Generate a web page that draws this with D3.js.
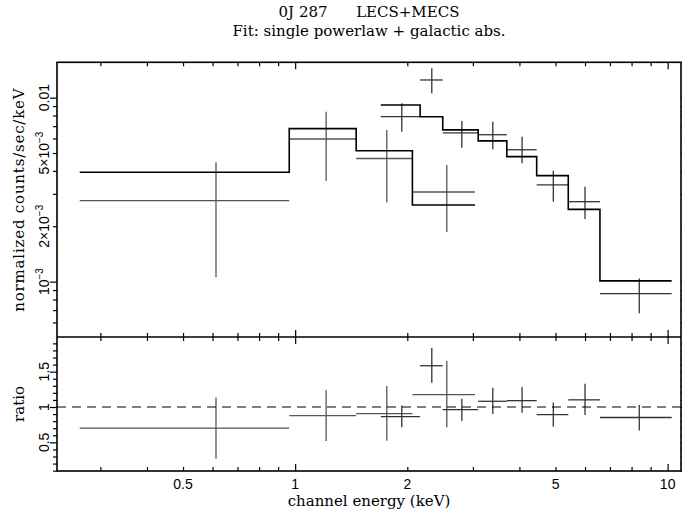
<!DOCTYPE html>
<html>
<head>
<meta charset="utf-8">
<script src="https://cdn.jsdelivr.net/npm/d3@7"></script>
<style>
body{margin:0;background:#fff;}
svg{display:block;}
.lab{font-family:"DejaVu Serif",serif;font-size:15px;fill:#000;}
.tk{font-family:"Liberation Sans",Arial,sans-serif;font-size:14px;fill:#000;}
</style>
</head>
<body>
<div id="chart"></div>
<script>
/*DATA
------------------------------------------------------
*/
// LECS : bins (keV), centre, data, error limits, model (counts/s/keV)
const lecsLo = [0.264, 0.964, 1.458, 2.064];
const lecsHi = [0.964, 1.458, 2.064, 3.04];
const lecsE = [0.613, 1.211, 1.762, 2.553];
const lecsData = [2.755e-3, 5.96e-3, 4.67e-3, 3.07e-3];
const lecsErrHi = [4.46e-3, 8.39e-3, 6.68e-3, 4.31e-3];
const lecsErrLo = [1.06e-3, 3.53e-3, 2.70e-3, 1.86e-3];
const lecsModel = [3.93e-3, 6.79e-3, 5.15e-3, 2.61e-3];

// MECS
const mecsLo = [1.698, 2.165, 2.49, 3.10, 3.70, 4.45, 5.41, 6.58];
const mecsHi = [2.165, 2.49, 3.10, 3.70, 4.45, 5.41, 6.58, 10.25];
const mecsE = [1.933, 2.327, 2.802, 3.393, 4.066, 4.932, 6.0, 8.39];
const mecsData = [7.88e-3, 1.248e-2, 6.43e-3, 6.29e-3, 5.21e-3, 3.36e-3, 2.72e-3, 8.6e-4];
const mecsErrHi = [9.32e-3, 1.445e-2, 7.47e-3, 7.40e-3, 6.14e-3, 4.01e-3, 3.28e-3, 1.04e-3];
const mecsErrLo = [6.53e-3, 1.057e-2, 5.35e-3, 5.24e-3, 4.40e-3, 2.72e-3, 2.19e-3, 6.73e-4];
const mecsModel = [9.13e-3, 7.88e-3, 6.68e-3, 5.82e-3, 4.78e-3, 3.77e-3, 2.47e-3, 1.01e-3];

// ticks
const xMajor = [1, 10];
const xMinor = [0.3, 0.4, 0.5, 0.6, 0.7, 0.8, 0.9, 2, 3, 4, 5, 6, 7, 8, 9];
const xLabels = [0.5, 1, 2, 5, 10];
const yTopMajor = [1e-3, 1e-2];
const yTopMinor = [6e-4, 7e-4, 8e-4, 9e-4, 2e-3, 3e-3, 4e-3, 5e-3, 6e-3, 7e-3, 8e-3, 9e-3];
const yTopLabels = [[1e-2, "0.01", ""], [5e-3, "5\u00d710", "\u22123"], [2e-3, "2\u00d710", "\u22123"], [1e-3, "10", "\u22123"]];
const yBotMajor = [0.5, 1, 1.5];
const yBotMinor = [0.1, 0.2, 0.3, 0.4, 0.6, 0.7, 0.8, 0.9, 1.1, 1.2, 1.3, 1.4, 1.6, 1.7, 1.8, 1.9];
const yBotLabels = [0.5, 1, 1.5];

/*DIMENSION
------------------------------------------------------
*/
const width = 682, height = 517;
const L = 57, R = 681, T = 62.3, M = 337, B = 471;

const svg = d3.select("#chart").append("svg")
	.attr("width", width)
	.attr("height", height);

const x = d3.scaleLog().domain([0.2294, 10.86]).range([L, R]);
const yTop = d3.scaleLog().domain([5e-4, 0.01557]).range([M, T]);
const yBot = d3.scaleLinear().domain([0.095, 1.99]).range([B, M]);

/*TICKS (inward, on every side)
------------------------------------------------------
*/
function ticks(axis, pos, values, size){
	svg.append("g")
		.attr("transform", pos)
		.call(axis.tickValues(values).tickSize(-size).tickFormat(""))
		.call(g => g.select(".domain").remove())
		.selectAll("line").attr("stroke", "#000").attr("stroke-width", 1.2);
}
[[d3.axisTop, T], [d3.axisBottom, M], [d3.axisTop, M], [d3.axisBottom, B]].forEach(function(a){
	ticks(a[0](x), "translate(0," + a[1] + ")", xMajor, 7);
	ticks(a[0](x), "translate(0," + a[1] + ")", xMinor, 4);
});
[[d3.axisRight, L], [d3.axisLeft, R]].forEach(function(a){
	ticks(a[0](yTop), "translate(" + a[1] + ",0)", yTopMajor, 7);
	ticks(a[0](yTop), "translate(" + a[1] + ",0)", yTopMinor, 4);
	ticks(a[0](yBot), "translate(" + a[1] + ",0)", yBotMajor, 7);
	ticks(a[0](yBot), "translate(" + a[1] + ",0)", yBotMinor, 4);
});

/*FRAME
------------------------------------------------------
*/
svg.append("rect").attr("x", L).attr("y", T).attr("width", R - L).attr("height", B - T)
	.attr("fill", "none").attr("stroke", "#000").attr("stroke-width", 1.6);
svg.append("line").attr("x1", L).attr("x2", R).attr("y1", M).attr("y2", M)
	.attr("stroke", "#000").attr("stroke-width", 1.6);

/*DATA + MODEL, RATIO
------------------------------------------------------
*/
function rows(lo, hi, e, d, el, eh, m){
	return lo.map((v, i) => ({lo: v, hi: hi[i], e: e[i], d: d[i], el: el[i], eh: eh[i], m: m[i]}));
}
const sets = [
	{rows: rows(lecsLo, lecsHi, lecsE, lecsData, lecsErrLo, lecsErrHi, lecsModel), col: "#555"},
	{rows: rows(mecsLo, mecsHi, mecsE, mecsData, mecsErrLo, mecsErrHi, mecsModel), col: "#333"}
];

const line = d3.line();
sets.forEach(function(s){
	const gTop = svg.append("g").attr("stroke", s.col).attr("stroke-width", 1.3);
	gTop.selectAll(".h").data(s.rows).enter().append("line")
		.attr("x1", d => x(d.lo)).attr("x2", d => x(d.hi))
		.attr("y1", d => yTop(d.d)).attr("y2", d => yTop(d.d));
	gTop.selectAll(".v").data(s.rows).enter().append("line")
		.attr("x1", d => x(d.e)).attr("x2", d => x(d.e))
		.attr("y1", d => yTop(d.el)).attr("y2", d => yTop(d.eh));

	const pts = [];
	s.rows.forEach(d => { pts.push([x(d.lo), yTop(d.m)]); pts.push([x(d.hi), yTop(d.m)]); });
	svg.append("path").attr("d", line(pts))
		.attr("fill", "none").attr("stroke", "#000").attr("stroke-width", 1.6);

	// ratio = data / model
	const gBot = svg.append("g").attr("stroke", s.col).attr("stroke-width", 1.3);
	gBot.selectAll(".h").data(s.rows).enter().append("line")
		.attr("x1", d => x(d.lo)).attr("x2", d => x(d.hi))
		.attr("y1", d => yBot(d.d / d.m)).attr("y2", d => yBot(d.d / d.m));
	gBot.selectAll(".v").data(s.rows).enter().append("line")
		.attr("x1", d => x(d.e)).attr("x2", d => x(d.e))
		.attr("y1", d => yBot(d.el / d.m)).attr("y2", d => yBot(d.eh / d.m));
});

svg.append("line").attr("x1", L).attr("x2", R).attr("y1", yBot(1)).attr("y2", yBot(1))
	.attr("stroke", "#000").attr("stroke-width", 1.2).attr("stroke-dasharray", "9,6");

/*LABELS
------------------------------------------------------
*/
svg.selectAll(".xl").data(xLabels).enter().append("text")
	.attr("class", "tk").attr("x", d => x(d)).attr("y", 489)
	.attr("text-anchor", "middle").text(d => d);

const yl = svg.selectAll(".yl").data(yTopLabels).enter().append("text")
	.attr("class", "tk").attr("text-anchor", "middle")
	.attr("transform", d => "translate(49," + yTop(d[0]) + ") rotate(-90)");
yl.append("tspan").text(d => d[1]);
yl.append("tspan").attr("dy", -6).attr("font-size", 10).text(d => d[2]);

svg.selectAll(".yb").data(yBotLabels).enter().append("text")
	.attr("class", "tk").attr("text-anchor", "middle")
	.attr("transform", d => "translate(49," + yBot(d) + ") rotate(-90)")
	.text(d => d);

svg.append("text").attr("class", "lab").attr("text-anchor", "middle")
	.attr("x", (L + R) / 2).attr("y", 506).text("channel energy (keV)");
svg.append("text").attr("class", "lab").attr("text-anchor", "middle")
	.attr("letter-spacing", 0.8)
	.attr("transform", "translate(24," + (T + M) / 2 + ") rotate(-90)")
	.text("normalized counts/sec/keV");
svg.append("text").attr("class", "lab").attr("text-anchor", "middle")
	.attr("transform", "translate(24," + (M + B) / 2 + ") rotate(-90)")
	.text("ratio");

svg.append("text").attr("class", "lab").attr("text-anchor", "middle")
	.attr("x", (L + R) / 2).attr("y", 17).attr("xml:space", "preserve")
	.text("0J 287      LECS+MECS");
svg.append("text").attr("class", "lab").attr("text-anchor", "middle")
	.attr("x", (L + R) / 2).attr("y", 36)
	.text("Fit: single powerlaw + galactic abs.");
</script>
</body>
</html>
